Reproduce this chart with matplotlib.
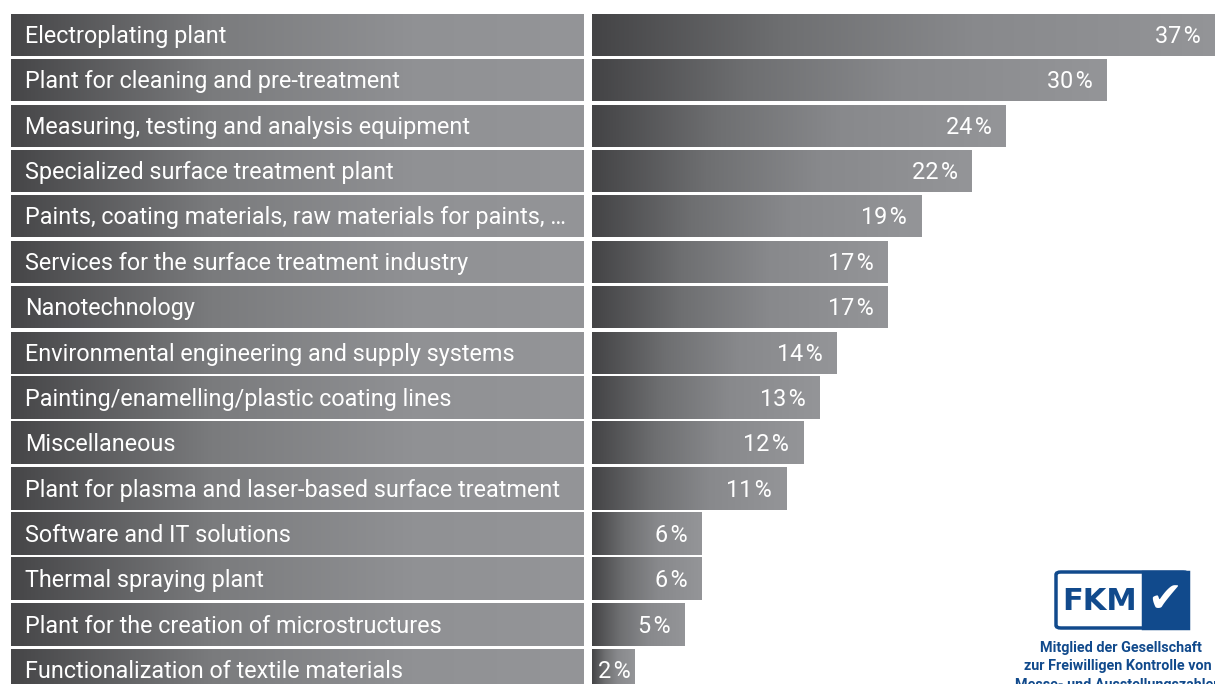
import matplotlib
matplotlib.use("Agg")
import matplotlib.pyplot as plt
import numpy as np
from matplotlib.colors import LinearSegmentedColormap
from matplotlib.patches import Rectangle, FancyBboxPatch

# data
categories = [
    "Electroplating plant",
    "Plant for cleaning and pre-treatment",
    "Measuring, testing and analysis equipment",
    "Specialized surface treatment plant",
    "Paints, coating materials, raw materials for paints, \u2026",
    "Services for the surface treatment industry",
    "Nanotechnology",
    "Environmental engineering and supply systems",
    "Painting/enamelling/plastic coating lines",
    "Miscellaneous",
    "Plant for plasma and laser-based surface treatment",
    "Software and IT solutions",
    "Thermal spraying plant",
    "Plant for the creation of microstructures",
    "Functionalization of textile materials",
]
shares = [37, 30, 24, 22, 19, 17, 17, 14, 13, 12, 11, 6, 6, 5, 2]

W, H = 1215, 684
fig = plt.figure(figsize=(W / 100, H / 100), dpi=100, facecolor="white")

grey = LinearSegmentedColormap.from_list(
    "bar", [(0, "#444446"), (0.3, "#6e6f71"), (0.6, "#88898c"), (1, "#949598")])
grey_lab = LinearSegmentedColormap.from_list(
    "lab", [(0, "#464648"), (0.35, "#7a7b7d"), (0.7, "#909194"), (1, "#949598")])
grad = np.linspace(0, 1, 256).reshape(1, -1)

pitch = 45.36
ylo, yhi = -35 / pitch, (H - 35) / pitch
bh = 42 / pitch
fs = 16.8
fams = ["Roboto", "DejaVu Sans"]

# left label bars
axl = fig.add_axes([11 / W, 0, (584 - 11) / W, 1])
for i, name in enumerate(categories):
    axl.imshow(grad, extent=[0, 1, i + bh / 2, i - bh / 2], aspect="auto", cmap=grey_lab)
    axl.annotate(name, xy=(0, i), xytext=(14, -8), textcoords="offset pixels",
                 color="white", fontsize=fs, family=fams, va="baseline", ha="left")
axl.set_xlim(0, 1)
axl.set_ylim(yhi, ylo)
axl.axis("off")

# right value bars
axr = fig.add_axes([592 / W, 0, (W - 592) / W, 1])
x0 = -0.5
xmax = 36.4
for i, v in enumerate(shares):
    axr.imshow(grad, extent=[x0, v, i + bh / 2, i - bh / 2], aspect="auto", cmap=grey)
    lab = f"{v}\u200a%"
    if v < 4:
        axr.annotate(lab, xy=(x0, i), xytext=(6, -8),
                     textcoords="offset pixels", color="white", fontsize=fs,
                     family=fams, va="baseline", ha="left")
    else:
        axr.annotate(lab, xy=(min(v, xmax), i), xytext=(-14, -8),
                     textcoords="offset pixels", color="white", fontsize=fs,
                     family=fams, va="baseline", ha="right")
axr.set_xlim(x0, xmax)
axr.set_ylim(yhi, ylo)
axr.axis("off")

# FKM logo
blue = "#114a8c"
fig.patches.append(FancyBboxPatch((1056 / W, (H - 628) / H), 132 / W, 56 / H,
                                  boxstyle="round,pad=0,rounding_size=0.004",
                                  transform=fig.transFigure, facecolor="white",
                                  edgecolor=blue, linewidth=2.5))
fig.patches.append(Rectangle((1143 / W, (H - 628) / H), 45 / W, 56 / H,
                             transform=fig.transFigure, facecolor=blue,
                             edgecolor=blue, linewidth=2.5))
fig.text(1100 / W, (H - 601) / H, "FKM", color=blue, fontsize=22,
         fontweight="heavy", family="DejaVu Sans", ha="center", va="center")
fig.text(1165 / W, (H - 600) / H, "\u2714", color="white", fontsize=30,
         family="DejaVu Sans", ha="center", va="center")
fig.text(1121 / W, (H - 648) / H, "Mitglied der Gesellschaft", color=blue,
         fontsize=10.4, fontweight="bold", family="Roboto", ha="center", va="center")
fig.text(1118 / W, (H - 666) / H, "zur Freiwilligen Kontrolle von", color=blue,
         fontsize=10.4, fontweight="bold", family="Roboto", ha="center", va="center")
fig.text(1118 / W, (H - 685) / H, "Messe- und Ausstellungszahlen", color=blue,
         fontsize=10.4, fontweight="bold", family="Roboto", ha="center", va="center")

fig.savefig("out.png", dpi=100, facecolor="white")
